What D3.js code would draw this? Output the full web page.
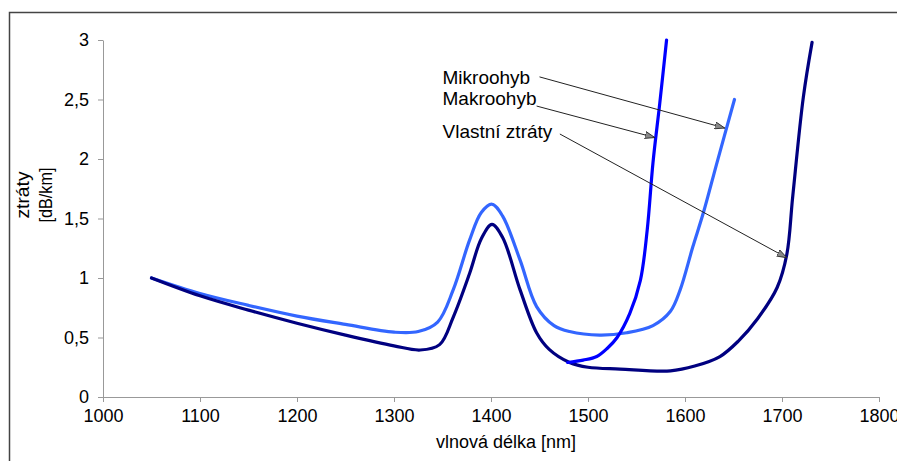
<!DOCTYPE html>
<html>
<head>
<meta charset="utf-8">
<script src="https://cdn.jsdelivr.net/npm/d3@7"></script>
<style>
  body { margin: 0; background: #fff; }
  svg { display: block; font-family: "Liberation Sans", Arial, sans-serif; }
</style>
</head>
<body>
<svg id="chart"></svg>
<script>
// Chart size
const width = 897;
const height = 461;

// Axis ticks
const xTicks = [1000, 1100, 1200, 1300, 1400, 1500, 1600, 1700, 1800];
const yTicks = [0, 0.5, 1, 1.5, 2, 2.5, 3];

// Vlastni ztraty (dark navy)
const vlastniNm = [1050, 1100, 1150, 1200, 1250, 1300, 1327, 1347, 1361, 1378, 1390, 1401, 1412, 1430, 1447, 1460, 1481, 1500, 1533, 1585, 1610, 1636, 1655, 1675, 1695, 1705, 1711, 1722, 1731];
const vlastniDb = [1.0, 0.85, 0.73, 0.62, 0.52, 0.43, 0.395, 0.44, 0.67, 1.04, 1.33, 1.45, 1.34, 0.9, 0.54, 0.4, 0.29, 0.25, 0.235, 0.22, 0.26, 0.34, 0.47, 0.66, 0.92, 1.2, 1.68, 2.52, 2.98];

// light blue curve
const lightNm = [1050, 1100, 1150, 1200, 1250, 1300, 1325, 1345, 1361, 1378, 1390, 1401, 1412, 1430, 1447, 1465, 1481, 1512, 1540, 1567, 1585, 1595, 1608, 1619, 1633, 1651];
const lightDb = [1.0, 0.87, 0.77, 0.68, 0.61, 0.545, 0.55, 0.63, 0.9, 1.32, 1.55, 1.62, 1.52, 1.15, 0.76, 0.6, 0.55, 0.52, 0.54, 0.6, 0.72, 0.9, 1.26, 1.55, 1.97, 2.5];

// blue curve
const blueNm = [1479, 1495, 1509, 1520, 1530, 1543, 1554, 1561, 1567, 1574, 1581];
const blueDb = [0.29, 0.31, 0.34, 0.41, 0.5, 0.7, 0.98, 1.4, 1.97, 2.47, 3.0];

// Annotations: label, text anchor (nm, dB), arrow from / to (nm, dB)
const labels = ["Mikroohyb", "Makroohyb", "Vlastní ztráty"];
const labelAt = [[1350, 2.63], [1350, 2.45], [1350, 2.18]];
const arrowFrom = [[1450, 2.69], [1447, 2.445], [1471, 2.21]];
const arrowTo = [[1641, 2.26], [1569, 2.18], [1705, 1.17]];

const svg = d3.select("#chart")
    .attr("width", width)
    .attr("height", height);

const x = d3.scaleLinear().domain([1000, 1800]).range([103, 879]);
const y = d3.scaleLinear().domain([0, 3]).range([397, 40]);

// outer frame (left + top edge)
svg.append("path")
    .attr("d", "M9.5,461V12.5H897")
    .attr("fill", "none")
    .attr("stroke", "#444")
    .attr("stroke-width", 1.5);

const fmt = d => String(d).replace(".", ",");

// Axes
const xAxis = svg.append("g")
    .attr("transform", `translate(0,${y(0)})`)
    .call(d3.axisBottom(x).tickValues(xTicks).tickFormat(d3.format("d")).tickSize(5).tickPadding(7).tickSizeOuter(0));
const yAxis = svg.append("g")
    .attr("transform", `translate(${x(1000)},0)`)
    .call(d3.axisLeft(y).tickValues(yTicks).tickFormat(fmt).tickSize(5).tickPadding(9).tickSizeOuter(0));

[xAxis, yAxis].forEach(a => {
    a.select(".domain").attr("stroke", "#999");
    a.selectAll(".tick line").attr("stroke", "#999");
    a.selectAll(".tick text")
        .attr("fill", "#000")
        .style("font-size", "18px")
        .style("font-family", "\"Liberation Sans\", Arial, sans-serif");
});

// Axis titles
svg.append("text")
    .attr("x", 506)
    .attr("y", 448)
    .attr("text-anchor", "middle")
    .style("font-size", "18px")
    .text("vlnová délka [nm]");

const yTitle = svg.append("g")
    .attr("transform", "translate(0,195) rotate(-90)");
yTitle.append("text")
    .attr("x", 0).attr("y", 29)
    .attr("text-anchor", "middle")
    .attr("textLength", 47).attr("lengthAdjust", "spacingAndGlyphs")
    .style("font-size", "18px")
    .text("ztráty");
yTitle.append("text")
    .attr("x", 0).attr("y", 52)
    .attr("text-anchor", "middle")
    .attr("textLength", 55).attr("lengthAdjust", "spacingAndGlyphs")
    .style("font-size", "18px")
    .text("[dB/km]");

// Curves
const line = d3.line()
    .x(d => x(d[0]))
    .y(d => y(d[1]))
    .curve(d3.curveCatmullRom.alpha(0.5));

const series = [
    { nm: lightNm, db: lightDb, color: "#3366ff" },
    { nm: vlastniNm, db: vlastniDb, color: "#000080" },
    { nm: blueNm, db: blueDb, color: "#0000ff" }
];

svg.append("g")
    .selectAll("path")
    .data(series)
    .join("path")
    .attr("d", s => line(d3.zip(s.nm, s.db)))
    .attr("fill", "none")
    .attr("stroke", s => s.color)
    .attr("stroke-width", 3.2)
    .attr("stroke-linecap", "round")
    .attr("stroke-linejoin", "round");

// Arrow marker
svg.append("defs").append("marker")
    .attr("id", "arrow")
    .attr("viewBox", "0 0 10 8")
    .attr("refX", 10)
    .attr("refY", 4)
    .attr("markerWidth", 10)
    .attr("markerHeight", 8)
    .attr("markerUnits", "userSpaceOnUse")
    .attr("orient", "auto")
    .append("path")
    .attr("d", "M0,0.5L10,4L0,7.5Z")
    .attr("fill", "#888")
    .attr("stroke", "#222")
    .attr("stroke-width", 0.8);

// Annotations
const ann = svg.append("g");
ann.selectAll("line")
    .data(labels)
    .join("line")
    .attr("x1", (d, i) => x(arrowFrom[i][0]))
    .attr("y1", (d, i) => y(arrowFrom[i][1]))
    .attr("x2", (d, i) => x(arrowTo[i][0]))
    .attr("y2", (d, i) => y(arrowTo[i][1]))
    .attr("stroke", "#222")
    .attr("stroke-width", 1)
    .attr("marker-end", "url(#arrow)");

ann.selectAll("text")
    .data(labels)
    .join("text")
    .attr("x", (d, i) => x(labelAt[i][0]))
    .attr("y", (d, i) => y(labelAt[i][1]))
    .style("font-size", "19px")
    .text(d => d);
</script>
</body>
</html>
